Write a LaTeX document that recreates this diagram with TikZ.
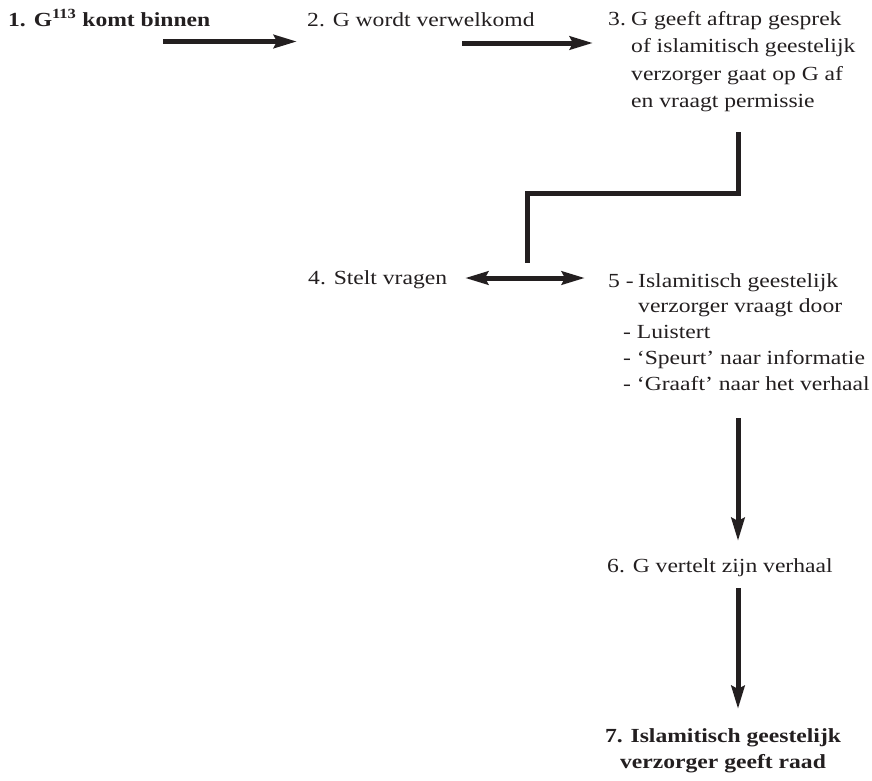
\documentclass[tikz,border=0pt]{standalone}
\usepackage{fontspec}
\setmainfont{Liberation Serif}[FakeStretch=1.18]
\usetikzlibrary{arrows.meta}
\definecolor{ink}{HTML}{231F20}
\begin{document}
\begin{tikzpicture}[x=1pt,y=-1pt,
  >={Stealth[length=23pt,width=13pt,inset=3pt]},
  txt/.style={inner sep=0pt, anchor=base west, text=ink},
  flow/.style={draw=ink, line width=5pt, ->},
  twoway/.style={draw=ink, line width=5pt, <->},
  elbow/.style={draw=ink, line width=5pt, line join=miter}]
\useasboundingbox (0,0) rectangle (872,780);

% step texts
\node[txt] (n1) at (8,26) {\fontsize{20}{27.5}\selectfont\bfseries 1. G\textsuperscript{113} komt binnen};
\node[txt] (n2) at (307,26) {\fontsize{20}{27.5}\selectfont 2. G wordt verwelkomd};
\node[txt] (n3) at (608,25) {\fontsize{20}{27.5}\selectfont
  \begin{tabular}[t]{@{}l@{}l@{}}
  \makebox[23pt][l]{3.} & G geeft aftrap gesprek\\
      & of islamitisch geestelijk\\
      & verzorger gaat op G af\\
      & en vraagt permissie
  \end{tabular}};
\node[txt] (n4) at (308,284) {\fontsize{20}{26}\selectfont 4. Stelt vragen};
\node[txt] (n5) at (608,287) {\fontsize{20}{25.8}\selectfont
  \begin{tabular}[t]{@{}l@{}l@{}}
  \makebox[30pt][l]{5 -} & Islamitisch geestelijk\\
       & verzorger vraagt door\\
  \multicolumn{2}{@{}l@{}}{\hspace*{15pt}- Luistert}\\
  \multicolumn{2}{@{}l@{}}{\hspace*{15pt}- ‘Speurt’ naar informatie}\\
  \multicolumn{2}{@{}l@{}}{\hspace*{15pt}- ‘Graaft’ naar het verhaal}
  \end{tabular}};
\node[txt] (n6) at (607,572) {\fontsize{20}{26}\selectfont 6. G vertelt zijn verhaal};
\node[txt, anchor=base] (n7) at (723,742) {\fontsize{20}{26}\selectfont\bfseries
  \begin{tabular}[t]{@{}c@{}}
  7. Islamitisch geestelijk\\
  verzorger geeft raad
  \end{tabular}};

% connector end points
\coordinate (a1s) at (163,41.5);
\coordinate (a1e) at (297,41.5);
\coordinate (a2s) at (462,43);
\coordinate (a2e) at (593,43);
\coordinate (e0) at (738,132);
\coordinate (e1) at (738,193);
\coordinate (e2) at (527,263);
\coordinate (d4) at (465,278);
\coordinate (d5) at (585,278);
\coordinate (v1s) at (738,418);
\coordinate (v1e) at (738,541);
\coordinate (v2s) at (738,588);
\coordinate (v2e) at (738,709);

% connectors
\draw[flow] (a1s) -- (a1e);
\draw[flow] (a2s) -- (a2e);
\draw[elbow] (e0) -- (e1) -| (e2);
\draw[twoway] (d4) -- (d5);
\draw[flow] (v1s) -- (v1e);
\draw[flow] (v2s) -- (v2e);
\end{tikzpicture}
\end{document}
